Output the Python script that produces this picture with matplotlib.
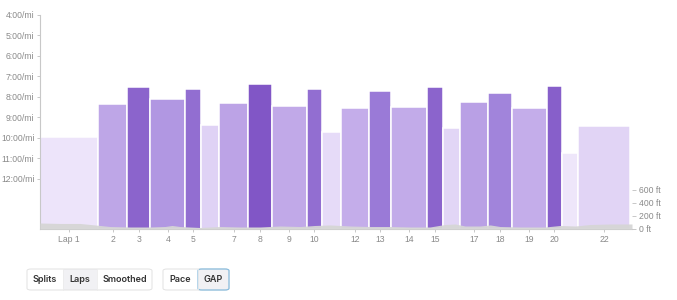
import numpy as np
import matplotlib
matplotlib.use("Agg")
import matplotlib.pyplot as plt
from matplotlib.patches import FancyBboxPatch, Rectangle
from matplotlib.colors import to_rgb

# lap data (distance in miles, pace in min/mi)
lap_names = ["Lap 1", "2", "3", "4", "5", "", "7", "8", "9", "10", "", "12",
             "13", "14", "15", "", "17", "18", "19", "20", "", "22"]
lap_dist = [1.66, 0.83, 0.66, 1.00, 0.46, 0.51, 0.83, 0.67, 1.00, 0.43, 0.54,
            0.80, 0.64, 1.03, 0.44, 0.51, 0.79, 0.67, 1.00, 0.44, 0.47, 1.47]
lap_pace = [9.95, 8.37, 7.53, 8.12, 7.63, 9.38, 8.32, 7.38, 8.42, 7.63, 9.73,
            8.52, 7.73, 8.47, 7.53, 9.53, 8.27, 7.82, 8.52, 7.48, 10.72, 9.43]

# elevation profile (miles, feet)
elev_dist = [0.0, 0.57, 1.14, 1.57, 2.0, 2.57, 3.14, 3.57, 3.77, 4.0, 4.57,
             5.14, 5.71, 6.29, 6.86, 7.43, 7.86, 8.29, 8.86, 9.43, 10.0, 10.57,
             11.14, 11.57, 11.86, 12.14, 12.57, 12.86, 13.14, 13.71, 14.43,
             14.86, 15.29, 15.71, 16.29, 16.91]
elev_ft = [92, 85, 85, 62, 38, 31, 31, 38, 54, 38, 23, 38, 31, 31, 46, 38, 54,
           62, 46, 38, 38, 31, 31, 69, 77, 46, 46, 62, 38, 31, 31, 54, 46, 69,
           77, 77]

pace_ticks = [4, 5, 6, 7, 8, 9, 10, 11, 12]
elev_ticks = [0, 200, 400, 600]

# colour ramp by pace (faster = darker)
ramp_pace = [7.38, 7.6, 7.8, 8.4, 9.4, 9.75, 10.0, 10.8]
ramp_col = ["#8156c6", "#8f6acf", "#a083db", "#c0a8e8", "#e0d3f5", "#e6dbf8",
            "#efe6fa", "#eee6fa"]
ramp_rgb = np.array([to_rgb(c) for c in ramp_col])


def pace_color(p):
    return tuple(np.interp(p, ramp_pace, ramp_rgb[:, i]) for i in range(3))


W, H = 677, 300
fig = plt.figure(figsize=(W / 100, H / 100), dpi=100)
ax = fig.add_axes([40 / W, 1 - 229 / H, 592 / W, 214 / H])

left = np.concatenate([[0], np.cumsum(lap_dist)[:-1]])
centers = left + np.array(lap_dist) / 2
ybot = 14.45
colors = [pace_color(p) for p in lap_pace]
ax.bar(left, np.array(lap_pace) - ybot, width=lap_dist, bottom=ybot,
       align="edge", color=colors, edgecolor="white", linewidth=1.1)

total = sum(lap_dist)
ax.set_xlim(0, total + 0.06)
ax.set_ylim(ybot, 4)
ax.set_yticks(pace_ticks)
ax.set_yticklabels([f"{t}:00/mi" for t in pace_ticks])
ticks_x = [c for c, n in zip(centers, lap_names) if n]
ax.set_xticks(ticks_x)
ax.set_xticklabels([n for n in lap_names if n])

for s in ["top", "right"]:
    ax.spines[s].set_visible(False)
for s in ["left", "bottom"]:
    ax.spines[s].set_color("#c8c8c8")
    ax.spines[s].set_linewidth(0.8)
ax.tick_params(axis="both", colors="#c8c8c8", labelcolor="#8a8a8a",
               labelsize=6.2, length=2.5, width=0.7, pad=1.5)

ax2 = ax.twinx()
ax2.fill_between(elev_dist, elev_ft, 0, color="#d6d6d6", alpha=0.95, lw=0)
ax2.set_ylim(0, 3280)
ax2.set_yticks(elev_ticks)
ax2.set_yticklabels([f"{t} ft" for t in elev_ticks])
for s in ax2.spines.values():
    s.set_visible(False)
ax2.tick_params(axis="y", colors="#c8c8c8", labelcolor="#8a8a8a",
                labelsize=6.2, length=3, width=0.7, pad=2)

for a in (ax, ax2):
    for lab in a.get_xticklabels() + a.get_yticklabels():
        lab.set_fontfamily("Liberation Sans")


# toggle buttons under the chart
def px(x, y):
    return x / W, 1 - y / H


def button_group(x0, x1, y0, y1, cuts, labels, active, active_border=None):
    xs = [x0] + cuts + [x1]
    for i, lab in enumerate(labels):
        if i == active:
            bx, by = px(xs[i], y1)
            fig.patches.append(Rectangle((bx, by), (xs[i + 1] - xs[i]) / W,
                                         (y1 - y0) / H, transform=fig.transFigure,
                                         facecolor="#f1f1f4", edgecolor="none"))
        cx = (xs[i] + xs[i + 1]) / 2
        tx, ty = px(cx, (y0 + y1) / 2)
        fig.text(tx, ty, lab, ha="center", va="center", fontsize=6.5,
                 fontweight="semibold", color="#333333", family="Inter")
    bx, by = px(x0, y1)
    fig.patches.append(FancyBboxPatch((bx, by), (x1 - x0) / W, (y1 - y0) / H,
                                      boxstyle="round,pad=0,rounding_size=0.006",
                                      transform=fig.transFigure, facecolor="none",
                                      edgecolor="#e2e2e2", linewidth=0.7))
    for c in cuts:
        lx, _ = px(c, 0)
        fig.add_artist(plt.Line2D([lx, lx], [1 - y1 / H, 1 - y0 / H],
                                  transform=fig.transFigure, color="#ececec", lw=0.6))
    if active_border:
        bx, by = px(xs[active], y1)
        fig.patches.append(FancyBboxPatch((bx, by), (xs[active + 1] - xs[active]) / W,
                                          (y1 - y0) / H,
                                          boxstyle="round,pad=0,rounding_size=0.006",
                                          transform=fig.transFigure, facecolor="none",
                                          edgecolor=active_border, linewidth=0.9))


button_group(27, 152, 269, 290, [63, 97], ["Splits", "Laps", "Smoothed"], 1)
button_group(163, 229, 269, 290, [198], ["Pace", "GAP"], 1, active_border="#8cbfe0")

fig.savefig("out.png", dpi=100)
